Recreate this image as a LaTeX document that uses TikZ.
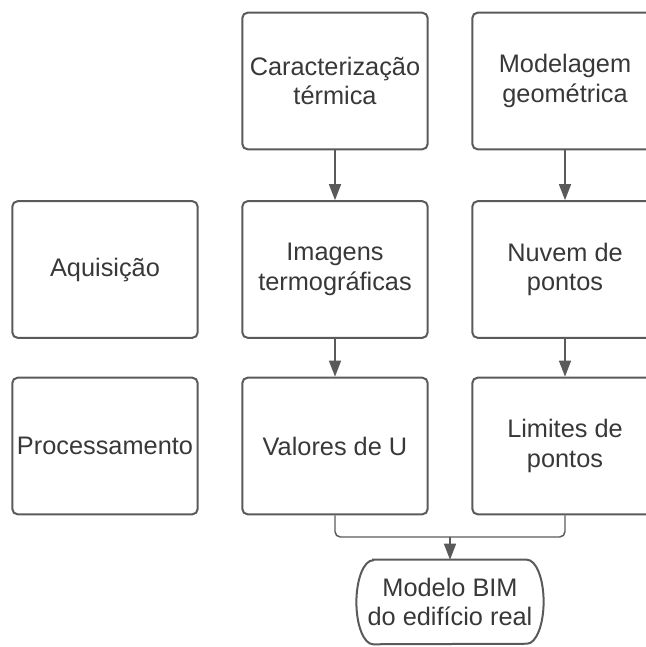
\documentclass[tikz,border=0pt]{standalone}
\usepackage{fontspec}
\setmainfont{Liberation Sans}
\usepackage{tikz}
\usetikzlibrary{arrows.meta,positioning}
\definecolor{linegray}{HTML}{5A5A5A}
\definecolor{textgray}{HTML}{383838}
\tikzset{
    stage/.style={
    rectangle,rounded corners=4pt,draw=linegray,line width=1.5pt,
    minimum width=139pt,minimum height=102.5pt,align=center,
    text=textgray,inner sep=1pt,font=\fontsize{19}{22}\selectfont
    },
    result/.style={
    rectangle,draw=none,minimum width=140pt,minimum height=63pt,
    align=center,text=textgray,font=\fontsize{19}{22}\selectfont
    },
    flow/.style={
    draw=linegray,line width=1.1pt,
    -{Triangle[length=12pt,width=9pt,fill=linegray]}
    },
    link/.style={
    draw=linegray,line width=1.1pt,rounded corners=4pt
    },
}

\begin{document}
\begin{tikzpicture}[x=0.75pt, y=-0.75pt]
   \useasboundingbox (0,0) rectangle (646,647);
   \clip (0,0) rectangle (646,647);
   \node[stage] (carac) at (335,81) {Caracterização\\térmica};
   \node[stage,right=172.5pt of carac.center,anchor=center] (model) {Modelagem\\geométrica};
   \node[stage] (imag) at (335,269.5) {Imagens\\termográficas};
   \node[stage,right=172.5pt of imag.center,anchor=center] (nuvem) {Nuvem de\\pontos};
   \node[stage,left=172.5pt of imag.center,anchor=center] (aquis) {Aquisição};
   \node[stage] (valor) at (335,446) {Valores de U};
   \node[stage,right=172.5pt of valor.center,anchor=center] (limit) {Limites de\\pontos};
   \node[stage,left=172.5pt of valor.center,anchor=center] (proc) {Processamento};
   \node[result] (bim) at (450,602) {Modelo BIM\\do edifício real};
   \coordinate (join) at (450,537);

   % stadium outline of the final node
   \draw[draw=linegray,line width=1.5pt]
     ([xshift=12.5pt]bim.north west) -- ([xshift=-12.5pt]bim.north east)
     arc[start angle=90,end angle=-90,x radius=12.5pt,y radius=31.5pt]
     -- ([xshift=12.5pt]bim.south west)
     arc[start angle=270,end angle=90,x radius=12.5pt,y radius=31.5pt] -- cycle;

  \draw[flow] (carac) -- (imag);
  \draw[flow] (model) -- (nuvem);
  \draw[flow] (imag) -- (valor);
  \draw[flow] (nuvem) -- (limit);
  \draw[link] (valor.south) |- (join) -| (limit.south);
  \draw[flow] (join) -- (bim.north);
\end{tikzpicture}
\end{document}
